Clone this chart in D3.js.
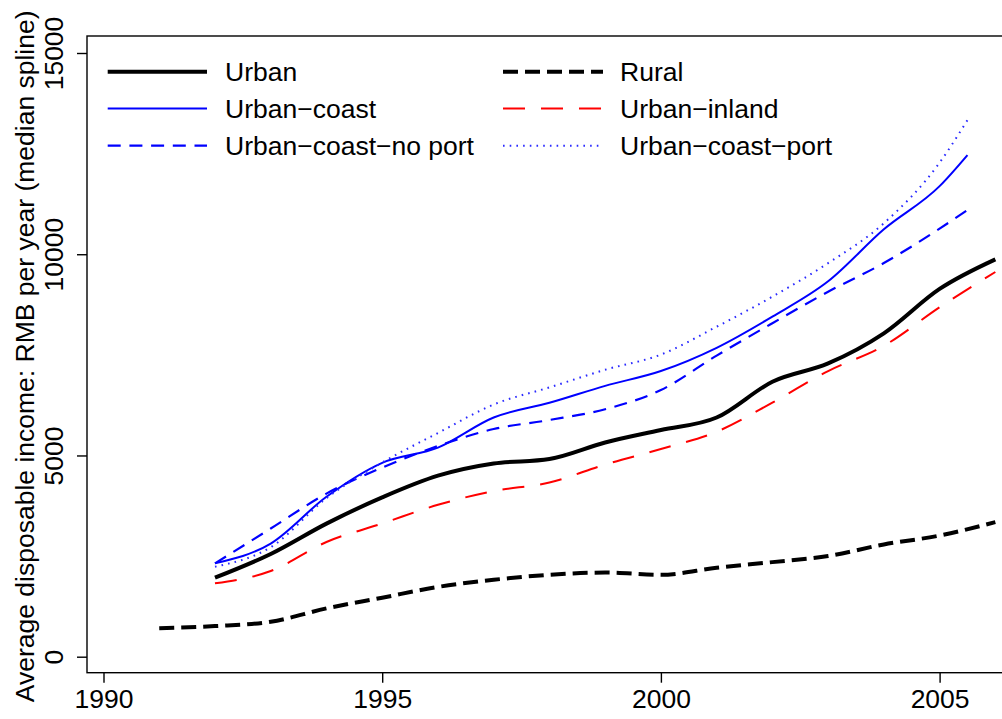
<!DOCTYPE html>
<html>
<head>
<meta charset="utf-8">
<script src="https://cdn.jsdelivr.net/npm/d3@7"></script>
<style>
  body { margin: 0; background: #fff; }
  svg { display: block; font-family: "Liberation Sans", Arial, sans-serif; }
</style>
</head>
<body>
<div id="chart"></div>
<script>
// years covered by each group of series
var ruralYears = [1991, 1992, 1993, 1994, 1995, 1996, 1997, 1998, 1999, 2000, 2001, 2002, 2003, 2004, 2005, 2006];
var urbanYears = [1992, 1993, 1994, 1995, 1996, 1997, 1998, 1999, 2000, 2001, 2002, 2003, 2004, 2005, 2006];
var coastYears = [1992, 1993, 1994, 1995, 1996, 1997, 1998, 1999, 2000, 2001, 2002, 2003, 2004, 2005, 2005.5];

// median spline values, RMB per year
var rural = [706, 760, 868, 1200, 1466, 1734, 1911, 2035, 2090, 2035, 2210, 2350, 2500, 2790, 3010, 3345];
var urban = [1963, 2552, 3307, 3958, 4497, 4800, 4912, 5322, 5632, 5943, 6832, 7287, 8035, 9138, 9873];
var urbanInland = [1824, 2129, 2850, 3309, 3774, 4117, 4328, 4775, 5160, 5590, 6313, 7098, 7724, 8681, 9558];
var urbanCoast = [2320, 2812, 3973, 4817, 5195, 5943, 6308, 6730, 7098, 7675, 8450, 9327, 10620, 11692, 12465];
var urbanCoastNoPort = [2320, 3185, 4052, 4700, 5235, 5657, 5881, 6149, 6626, 7481, 8286, 9068, 9781, 10636, 11098];
var urbanCoastPort = [2236, 2720, 3937, 4825, 5558, 6266, 6691, 7130, 7506, 8199, 8947, 9779, 10770, 12276, 13334];

var xTicks = [1990, 1995, 2000, 2005];
var yTicks = [0, 5000, 10000, 15000];
var yTitle = "Average disposable income: RMB per year (median spline)";

var series = [
  { name: "Urban", years: urbanYears, values: urban, color: "#000", width: 4, dash: null, col: 0, row: 0 },
  { name: "Rural", years: ruralYears, values: rural, color: "#000", width: 4, dash: "15,7", col: 1, row: 0 },
  { name: "Urban\u2212coast", years: coastYears, values: urbanCoast, color: "#0000ff", width: 2, dash: null, col: 0, row: 1 },
  { name: "Urban\u2212inland", years: urbanYears, values: urbanInland, color: "#ff0000", width: 2, dash: "22,16", col: 1, row: 1 },
  { name: "Urban\u2212coast\u2212no port", years: coastYears, values: urbanCoastNoPort, color: "#0000ff", width: 2.2, dash: "13,8.7", col: 0, row: 2 },
  { name: "Urban\u2212coast\u2212port", years: coastYears, values: urbanCoastPort, color: "#2a2aff", width: 2, dash: "1.6,5.1", col: 1, row: 2 }
];

var svgWidth = 1002, svgHeight = 719;
var box = { left: 87, top: 36, right: 1012, bottom: 672.7 };
var fontSize = 26.5;

var svg = d3.select("#chart").append("svg")
  .attr("width", svgWidth)
  .attr("height", svgHeight);

var x = d3.scaleLinear().domain([1990, 2005]).range([103.5, 939.6]);
var y = d3.scaleLinear().domain([0, 15000]).range([656.7, 53]);

// curves
var line = d3.line()
  .x(d => x(d[0]))
  .y(d => y(d[1]))
  .curve(d3.curveMonotoneX);

series.forEach(function (s) {
  var pts = s.years.map((yr, i) => [yr, s.values[i]]);
  svg.append("path")
    .datum(pts)
    .attr("fill", "none")
    .attr("stroke", s.color)
    .attr("stroke-width", s.width)
    .attr("stroke-dasharray", s.dash)
    .attr("d", line);
});

// frame
svg.append("rect")
  .attr("x", box.left)
  .attr("y", box.top)
  .attr("width", box.right - box.left)
  .attr("height", box.bottom - box.top)
  .attr("fill", "none")
  .attr("stroke", "#000")
  .attr("stroke-width", 1.4);

// x axis
var xAxis = svg.append("g")
  .attr("transform", `translate(0, ${box.bottom})`)
  .call(d3.axisBottom(x).tickValues(xTicks).tickSize(10).tickFormat(d3.format("d")));
xAxis.select(".domain").remove();
xAxis.selectAll("line").attr("stroke-width", 1.4);
xAxis.selectAll("text")
  .attr("y", 35.5)
  .attr("dy", 0)
  .attr("font-size", fontSize)
  .attr("font-family", "Liberation Sans, Arial, sans-serif")
  .attr("fill", "#000");

// y axis, labels turned like R's default
var yAxis = svg.append("g")
  .attr("transform", `translate(${box.left}, 0)`)
  .call(d3.axisLeft(y).tickValues(yTicks).tickSize(10).tickFormat(d3.format("d")));
yAxis.select(".domain").remove();
yAxis.selectAll("line").attr("stroke-width", 1.4);
yAxis.selectAll("text")
  .attr("transform", "rotate(-90)")
  .attr("x", 0)
  .attr("y", -24)
  .attr("dy", 0)
  .attr("text-anchor", "middle")
  .attr("font-size", fontSize)
  .attr("font-family", "Liberation Sans, Arial, sans-serif")
  .attr("fill", "#000");

svg.append("text")
  .attr("transform", `translate(34, ${(box.top + box.bottom) / 2 + 2}) rotate(-90)`)
  .attr("text-anchor", "middle")
  .attr("font-size", fontSize)
  .text(yTitle);

// legend
var legendCols = [{ x1: 107.7, x2: 207, tx: 225 }, { x1: 503, x2: 603, tx: 620 }];
var legendRows = [71.7, 108.5, 145.7];

var legend = svg.append("g");
series.forEach(function (s) {
  var c = legendCols[s.col], ry = legendRows[s.row];
  legend.append("line")
    .attr("x1", c.x1).attr("x2", c.x2)
    .attr("y1", ry).attr("y2", ry)
    .attr("stroke", s.color)
    .attr("stroke-width", s.width)
    .attr("stroke-dasharray", s.dash);
  legend.append("text")
    .attr("x", c.tx)
    .attr("y", ry + 9)
    .attr("font-size", fontSize)
    .text(s.name);
});
</script>
</body>
</html>
